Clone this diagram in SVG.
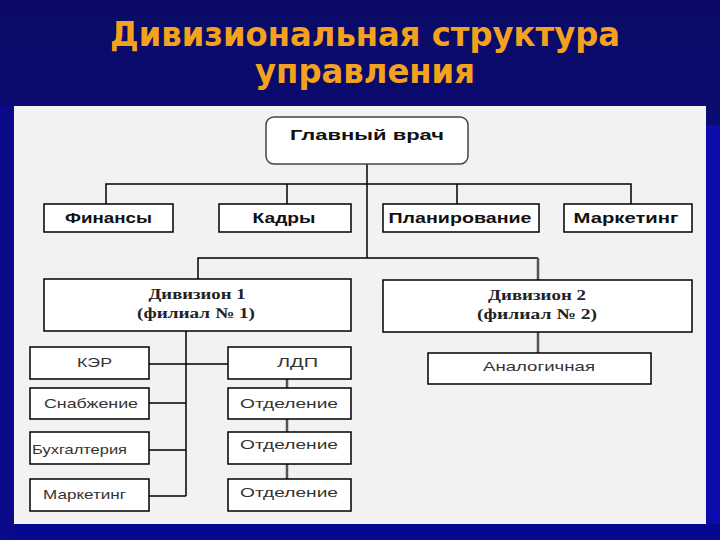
<svg xmlns="http://www.w3.org/2000/svg" width="720" height="540" viewBox="0 0 720 540">
<defs>
<linearGradient id="bg" x1="0" y1="0" x2="0" y2="1">
<stop offset="0" stop-color="#0a0a66"/>
<stop offset="1" stop-color="#0b0b96"/>
</linearGradient>
<style>
.title{font-family:"DejaVu Sans","Liberation Sans",sans-serif;font-weight:bold;font-size:33px;fill:#f4a21e;text-anchor:middle}
.box{fill:#ffffff;stroke:#000000;stroke-width:1.5}
.boss{fill:#ffffff;stroke:#444444;stroke-width:1.5}
.lb{font-family:"Liberation Sans","DejaVu Sans",sans-serif;font-weight:bold;font-size:15px;fill:#111111;text-anchor:middle}
.ls{font-family:"Liberation Sans","DejaVu Sans",sans-serif;font-size:13px;fill:#333333;text-anchor:middle}
.ld{font-family:"Liberation Serif","DejaVu Serif",serif;font-weight:bold;font-size:15px;fill:#222222;text-anchor:middle}
.c{fill:none;stroke:#000000;stroke-width:1.5}
.cg{fill:none;stroke:#555555;stroke-width:2.5}
</style>
</defs>
<rect x="0" y="0" width="720" height="540" fill="url(#bg)"/>
<rect x="706" y="125" width="14" height="415" fill="#0c0cae"/>
<rect x="0" y="524" width="720" height="16" fill="#08088e"/>
<rect x="0" y="106" width="14" height="434" fill="#0a0a8a"/>
<text class="title" x="365" y="46" textLength="510" lengthAdjust="spacingAndGlyphs">Дивизиональная структура</text>
<text class="title" x="365" y="83" textLength="220" lengthAdjust="spacingAndGlyphs">управления</text>
<rect x="14" y="106" width="692" height="418" fill="#f2f2f2"/>

<g id="connectors">
<path class="c" d="M367 164 V258"/>
<path class="c" d="M106 204 V184 H631 V204 M287 184 V204 M457 184 V204"/>
<path class="c" d="M198 279 V258 H538"/>
<path class="cg" d="M538 258 V280 M538 332 V353"/>
<path class="c" d="M186 331 V496 M149 364 H228 M149 403 H186 M149 450 H186 M149 496 H186"/>
<path class="cg" d="M287 379 V479"/>
</g>

<g id="chief"><rect class="boss" x="266" y="117" width="202" height="47" rx="8"/><text class="lb" x="367" y="140" textLength="154" lengthAdjust="spacingAndGlyphs">Главный врач</text></g>
<g id="finance"><rect class="box" x="44" y="204" width="129" height="28"/><text class="lb" x="108.5" y="223" textLength="87" lengthAdjust="spacingAndGlyphs">Финансы</text></g>
<g id="hr"><rect class="box" x="219" y="204" width="132" height="28"/><text class="lb" x="284" y="223" textLength="63" lengthAdjust="spacingAndGlyphs">Кадры</text></g>
<g id="planning"><rect class="box" x="383" y="204" width="156" height="28"/><text class="lb" x="460" y="223" textLength="143" lengthAdjust="spacingAndGlyphs">Планирование</text></g>
<g id="marketing"><rect class="box" x="564" y="204" width="128" height="28"/><text class="lb" x="626" y="223" textLength="105" lengthAdjust="spacingAndGlyphs">Маркетинг</text></g>

<g id="div1"><rect class="box" x="44" y="279" width="307" height="52"/><text class="ld" x="197" y="299" textLength="97" lengthAdjust="spacingAndGlyphs">Дивизион 1</text><text class="ld" x="196" y="318" textLength="118" lengthAdjust="spacingAndGlyphs">(филиал № 1)</text></g>
<g id="div2"><rect class="box" x="383" y="280" width="309" height="52"/><text class="ld" x="537" y="300" textLength="98" lengthAdjust="spacingAndGlyphs">Дивизион 2</text><text class="ld" x="537" y="319" textLength="120" lengthAdjust="spacingAndGlyphs">(филиал № 2)</text></g>
<g id="similar"><rect class="box" x="428" y="353" width="223" height="31"/><text class="ls" x="539" y="371" textLength="112" lengthAdjust="spacingAndGlyphs">Аналогичная</text></g>

<g id="ker"><rect class="box" x="30" y="347" width="119" height="32"/><text class="ls" x="94.5" y="367" textLength="35" lengthAdjust="spacingAndGlyphs">КЭР</text></g>
<g id="ldp"><rect class="box" x="228" y="347" width="123" height="32"/><text class="ls" x="297.5" y="367" textLength="41" lengthAdjust="spacingAndGlyphs">ЛДП</text></g>
<g id="supply"><rect class="box" x="30" y="388" width="119" height="31"/><text class="ls" x="91" y="408" textLength="94" lengthAdjust="spacingAndGlyphs">Снабжение</text></g>
<g id="accounting"><rect class="box" x="30" y="432" width="119" height="32"/><text class="ls" x="79.5" y="454" textLength="95" lengthAdjust="spacingAndGlyphs">Бухгалтерия</text></g>
<g id="marketing2"><rect class="box" x="30" y="479" width="119" height="32"/><text class="ls" x="84.5" y="499" textLength="83" lengthAdjust="spacingAndGlyphs">Маркетинг</text></g>
<g id="dept1"><rect class="box" x="228" y="388" width="123" height="31"/><text class="ls" x="289" y="408" font-size="15" textLength="98" lengthAdjust="spacingAndGlyphs">Отделение</text></g>
<g id="dept2"><rect class="box" x="228" y="432" width="123" height="32"/><text class="ls" x="289" y="449" font-size="15" textLength="98" lengthAdjust="spacingAndGlyphs">Отделение</text></g>
<g id="dept3"><rect class="box" x="228" y="479" width="123" height="32"/><text class="ls" x="289" y="497" font-size="15" textLength="98" lengthAdjust="spacingAndGlyphs">Отделение</text></g>
</svg>
